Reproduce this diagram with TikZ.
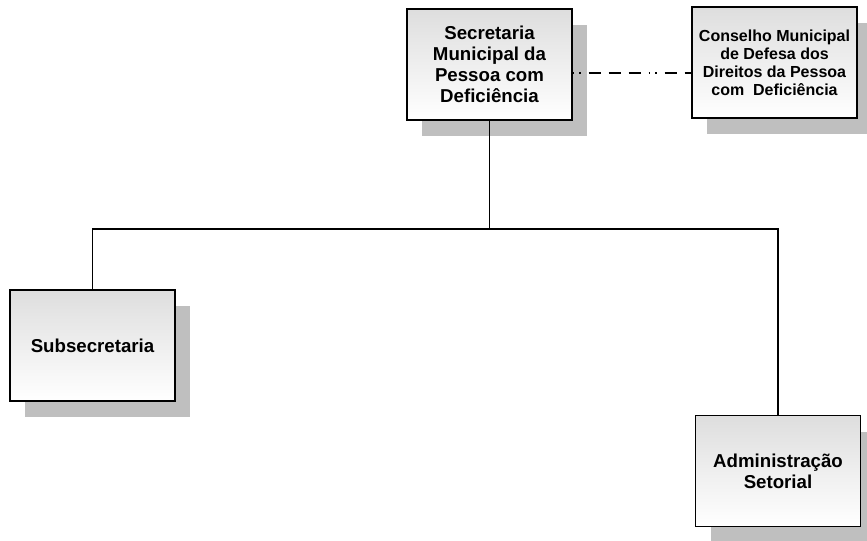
\documentclass[tikz,border=0pt]{standalone}
\usepackage{fontspec}
\setmainfont{Liberation Sans}
\usetikzlibrary{shadows}

\tikzset{
    unidade/.style={draw, line width=0.8pt, top color=black!13, bottom color=white,
        minimum width=123.75pt, minimum height=83.25pt, inner sep=0pt, align=center,
        font=\bfseries\fontsize{14}{15.75}\selectfont,
        drop shadow={shadow xshift=11.25pt, shadow yshift=-12pt, fill=black!25, opacity=1}},
    conselho/.style={unidade, font=\bfseries\fontsize{12}{13.5}\selectfont},
    ligacao/.style={line width=0.9pt},
    vinculo/.style={line width=0.9pt, dash pattern=on 1pt off 4pt on 1pt off 6pt on 9pt off 6pt on 9pt off 6pt on 9pt off 6pt}
}

\begin{document}
\begin{tikzpicture}[x=0.75pt, y=-0.75pt]
    \useasboundingbox (0,0) rectangle (867,540);
    \node[unidade](sec) at (489.5,64.5){Secretaria\\Municipal da\\Pessoa com\\Deficiência};
    \node[conselho](cons) at (774.5,62.5){Conselho Municipal\\de Defesa dos\\Direitos da Pessoa\\com\ \ Deficiência};
    \node[unidade](sub) at (92.5,345.5){Subsecretaria};
    \node[unidade](adm) at (778,471){Administração\\Setorial};
    \coordinate (barra) at (0,229);
    \coordinate (elo) at (0,73);
    % ligacoes
    \draw[ligacao](sec.south)--(sec.south |- barra);
    \draw[ligacao](sub.north)--(sub.north |- barra)-|(adm.north);
    \draw[vinculo](sec.east |- elo)--(cons.west |- elo);
\end{tikzpicture}
\end{document}
